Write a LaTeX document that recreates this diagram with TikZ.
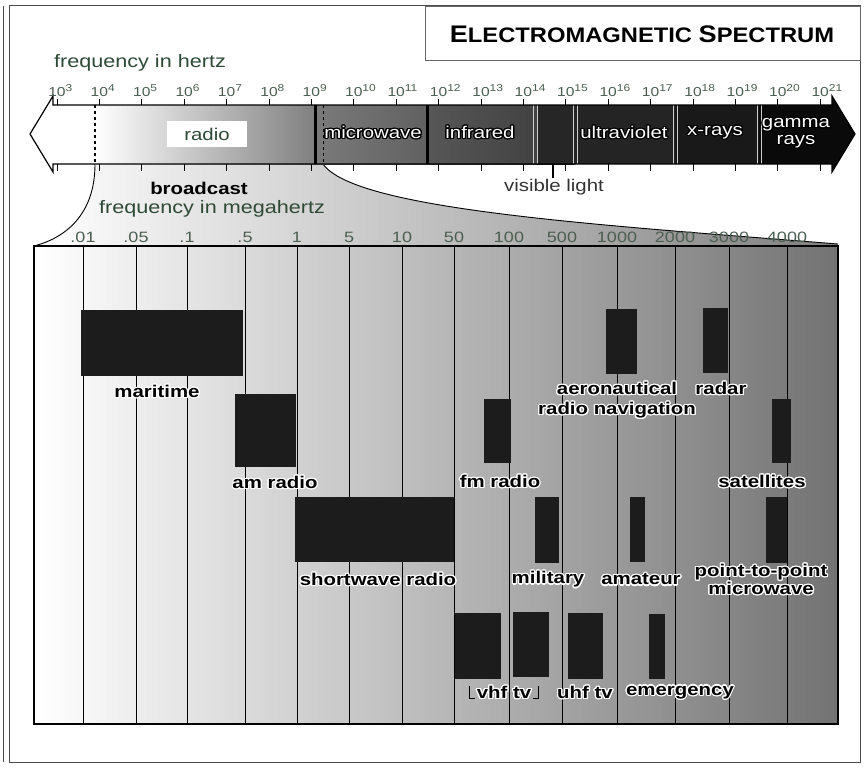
\documentclass[tikz,border=0pt]{standalone}
\usepackage{fontspec}
\setmainfont{Liberation Sans}
\newfontfamily\lblfont[FakeStretch=1.2]{Liberation Sans}
\newfontfamily\ttlfont[FakeStretch=1.13]{Liberation Sans}
\usepackage[copies]{contour}
\contourlength{1.2pt}
\contournumber{20}
\definecolor{hertzGreen}{HTML}{2E4A36}
\definecolor{tickGreen}{HTML}{4B5E50}
\definecolor{barBlack}{HTML}{1C1C1C}
\usetikzlibrary{calc}

\begin{document}
\begin{tikzpicture}[x=1pt,y=-1pt,
    every node/.style={font=\lblfont, inner sep=0pt},
    bar/.style={fill=barBlack},
    lbl/.style={font=\lblfont\bfseries\fontsize{17}{19}\selectfont, text=black},
    band/.style={font=\lblfont\fontsize{17}{18}\selectfont, text=white},
    hz/.style={font=\lblfont\fontsize{13}{14}\selectfont, text=tickGreen, anchor=south},
    mhz/.style={font=\lblfont\fontsize{15}{16}\selectfont, text=tickGreen},
    grid/.style={draw=black, line width=0.9pt},
    tick/.style={draw=black, line width=1pt}]
  \useasboundingbox (0,0) rectangle (864,768);
  % Frame and title
  \draw[black!70, line width=1pt] (9,6) rectangle (860,762);
  \draw[black!70, line width=0.8pt] (3,6) -- (3,762);
  \draw[black!60, line width=0.8pt, fill=white] (425,6) rectangle (860,60);
  \node[font=\ttlfont\bfseries\fontsize{21}{24}\selectfont] (title) at (642,34)
    {{\fontsize{24}{24}\selectfont E}LECTROMAGNETIC {\fontsize{24}{24}\selectfont S}PECTRUM};
  \node[font=\lblfont\fontsize{18}{20}\selectfont, text=hertzGreen] (hertz) at (140,63) {frequency in hertz};

  % Funnel down to the broadcast band
  \shade[left color=white, right color=black!50] (95,164) .. controls (95,215) and (65,238) .. (34,246)
    -- (838,246) -- (838,244) .. controls (600,225) and (355,210) .. (323,164) -- cycle;
  \draw[line width=0.9pt] (95,164) .. controls (95,215) and (65,238) .. (34,246);
  \draw[line width=0.9pt] (323,164) .. controls (355,210) and (600,225) .. (838,244);
  \node[lbl] (broadcast) at (199,188) {broadcast};
  \node[font=\lblfont\fontsize{18}{20}\selectfont, text=hertzGreen] (megahertz) at (212,209) {frequency in megahertz};

  % Broadcast panel
  \shade[left color=white, right color=black!55] (34,246) rectangle (838,724);
  \foreach \x/\v [count=\i] in {83/.01, 136/.05, 187/.1, 245/.5, 297/1, 349/5, 402/10, 454/50,
      509/100, 562/500, 617/1000, 675/2000, 729/3000, 787/4000} {
    \draw[grid] (\x,246) -- (\x,724);
    \node[mhz] (mhz\i) at (\x,237) {\v};
  }
  \draw[line width=1.6pt] (34,246) rectangle (838,724);

  % Bands in use
  \fill[bar] (81,310) rectangle (243,376);  % maritime
  \fill[bar] (235,394) rectangle (296,467); % am radio
  \fill[bar] (295,497) rectangle (454,562); % shortwave
  \fill[bar] (606,309) rectangle (637,374); % aeronautical
  \fill[bar] (703,308) rectangle (728,373); % radar
  \fill[bar] (484,399) rectangle (511,463); % fm radio
  \fill[bar] (772,399) rectangle (791,463); % satellites
  \fill[bar] (535,497) rectangle (559,563); % military
  \fill[bar] (630,497) rectangle (645,562); % amateur
  \fill[bar] (766,497) rectangle (787,563); % point-to-point
  \fill[bar] (455,613) rectangle (501,679); % vhf low
  \fill[bar] (513,612) rectangle (549,677); % vhf high
  \fill[bar] (568,613) rectangle (603,679); % uhf
  \fill[bar] (649,614) rectangle (665,679); % emergency

  \node[lbl] (maritime) at (157,392) {\contour{white}{maritime}};
  \node[lbl] (amradio) at (275,483) {\contour{white}{am radio}};
  \node[lbl] (shortwave) at (378,580) {\contour{white}{shortwave radio}};
  \node[lbl] (aero) at (617,389) {\contour{white}{aeronautical}};
  \node[lbl] (radar) at (721,389) {\contour{white}{radar}};
  \node[lbl] (navigation) at (617,411) {\contour{white}{radio navigation}};
  \node[lbl] (fmradio) at (500,482) {\contour{white}{fm radio}};
  \node[lbl] (satellites) at (762,482) {\contour{white}{satellites}};
  \node[lbl] (military) at (548,580) {\contour{white}{military}};
  \node[lbl] (amateur) at (641,580) {\contour{white}{amateur}};
  \node[lbl, align=center, font=\lblfont\bfseries\fontsize{17}{16}\selectfont] (p2p) at (761,580)
    {\contour{white}{point-to-point}\\\contour{white}{microwave}};
  \node[lbl] (vhftv) at (504,693) {\contour{white}{vhf tv}};
  \node[lbl] (uhftv) at (585,693) {\contour{white}{uhf tv}};
  \node[lbl] (emergency) at (680,693) {\contour{white}{emergency}};
  \draw[line width=1pt] ($(vhftv.west)+(-7,-7)$) -- ++(0,12) -- ++(5,0);
  \draw[line width=1pt] ($(vhftv.east)+(7,-7)$) -- ++(0,12) -- ++(-5,0);

  % Spectrum arrow
  \shade[left color=white, right color=black!50] (95,105) rectangle (315,164);
  \shade[left color=black!52, right color=black!62] (315,105) rectangle (427,164);
  \shade[left color=black!66, right color=black!74] (427,105) rectangle (537,164);
  \shade[left color=black!85, middle color=white, right color=black!85] (537,105) rectangle (575,164);
  \fill[black!86] (575,105) rectangle (675,164);
  \fill[black!90] (675,105) rectangle (759,164);
  \fill[black!96] (759,105) -- (832,105) -- (832,96) -- (855,134) -- (832,172) -- (832,164) -- (759,164) -- cycle;
  \draw[line width=3pt] (315,105) -- (315,164);
  \draw[line width=3pt] (427,105) -- (427,164);
  \draw[dashed, line width=1.4pt] (95,105) -- (95,164);
  \draw[dashed, line width=1pt] (323,105) -- (323,164);
  \foreach \x in {533,537,573,577,673,677,757,761}
    \draw[black!20, line width=0.8pt] (\x,105) -- (\x,164);
  \draw[line width=1.2pt] (53,105) -- (832,105) -- (832,96) -- (855,134) -- (832,172) -- (832,164)
    -- (53,164) -- (53,172) -- (30,134) -- (53,96) -- cycle;
  \foreach \n in {3,...,21} {
    \pgfmathsetmacro\xt{57+42.4*(\n-3)}
    \draw[tick] (\xt,105) -- (\xt,99);
    \draw[tick] (\xt,164) -- (\xt,171);
    \node[hz] (hz\n) at (\xt,97) {10\rlap{\raisebox{5pt}{\fontsize{10}{10}\selectfont\n}}};
  }
  \node[fill=white, minimum width=80, minimum height=26, font=\lblfont\fontsize{17}{18}\selectfont,
    text=hertzGreen] (radio) at (207,134) {radio};
  \node[band] (microwave) at (373,133) {\contour{black}{microwave}};
  \node[band] (infrared) at (480,133) {\contour{black}{infrared}};
  \node[band] (ultraviolet) at (624,133) {\contour{black}{ultraviolet}};
  \node[band] (xrays) at (715,133) {\contour{black}{x-rays}};
  \node[band, align=center, font=\lblfont\fontsize{17}{17}\selectfont] (gamma) at (796,134)
    {\contour{black}{gamma}\\\contour{black}{rays}};
  \draw[line width=1.2pt] (553,164) -- (553,178);
  \node[font=\lblfont\fontsize{17}{19}\selectfont, text=black!80] (visible) at (554,187) {visible light};
\end{tikzpicture}
\end{document}
